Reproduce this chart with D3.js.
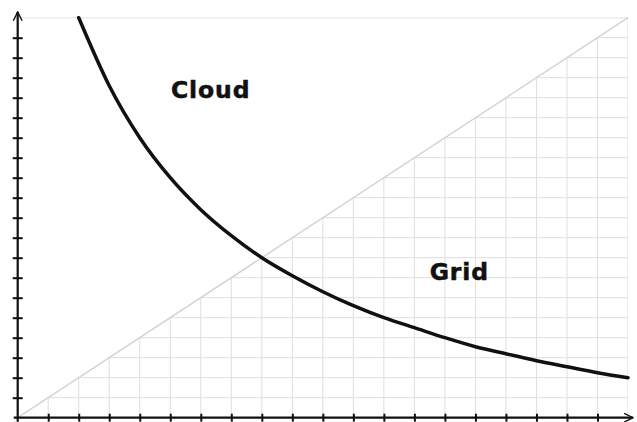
<!DOCTYPE html>
<html>
<head>
<meta charset="utf-8">
<script src="https://cdn.jsdelivr.net/npm/d3@7"></script>
<style>
  body { margin: 0; background: #fff; }
  svg { display: block; }
</style>
</head>
<body>
<script>
var width = 637;
var height = 422;

// Data (units of the 20 x 20 grid)
var curveX = [2, 3, 4, 5, 6, 7, 8, 9, 10, 11, 12, 13, 14, 15, 16, 17, 18, 19, 20];
var curveY = [20, 16.6, 14, 12, 10.4, 9.1, 8, 7.1, 6.3, 5.6, 5, 4.5, 4, 3.55, 3.2, 2.85, 2.55, 2.25, 2];
var diagonal = [[0, 0], [20, 20]];
var gridValues = d3.range(1, 21);
var tickValues = d3.range(1, 20);
var labels = ["Cloud", "Grid"];
var labelPos = [[5.02, 15.98], [13.5, 6.9]];

var svg = d3.select("body").append("svg")
    .attr("width", width)
    .attr("height", height);

var x = d3.scaleLinear().domain([0, 20]).range([17.7, 628]);
var y = d3.scaleLinear().domain([0, 20]).range([417.7, 17.7]);

// Triangle under the diagonal holds the grid
svg.append("clipPath").attr("id", "tri")
  .append("path")
    .attr("d", d3.line()([[x(0), y(0)], [x(20), y(20)], [x(20), y(0)]]));

// faint top border
svg.append("line")
    .attr("x1", x(0)).attr("x2", x(20))
    .attr("y1", y(20)).attr("y2", y(20))
    .attr("stroke", "#ececec").attr("stroke-width", 1.5);

var grid = svg.append("g").attr("clip-path", "url(#tri)")
    .attr("stroke", "#dedede").attr("stroke-width", 1);

grid.selectAll(".v").data(gridValues).enter().append("line")
    .attr("x1", d => x(d)).attr("x2", d => x(d))
    .attr("y1", y(0)).attr("y2", y(20));

grid.selectAll(".h").data(gridValues).enter().append("line")
    .attr("y1", d => y(d)).attr("y2", d => y(d))
    .attr("x1", x(0)).attr("x2", x(20));

// diagonal
svg.append("path")
    .attr("d", d3.line().x(d => x(d[0])).y(d => y(d[1]))(diagonal))
    .attr("fill", "none")
    .attr("stroke", "#d4d4d4")
    .attr("stroke-width", 1.5);

// curve
svg.append("path")
    .datum(curveX.map((d, i) => [d, curveY[i]]))
    .attr("d", d3.line().x(d => x(d[0])).y(d => y(d[1])).curve(d3.curveMonotoneX))
    .attr("fill", "none")
    .attr("stroke", "#111")
    .attr("stroke-width", 3.5)
    .attr("stroke-linecap", "round");

// labels
svg.selectAll(".label").data(labels).enter().append("text")
    .attr("x", (d, i) => x(labelPos[i][0]))
    .attr("y", (d, i) => y(labelPos[i][1]))
    .attr("font-family", "DejaVu Sans")
    .attr("font-weight", "bold")
    .attr("font-size", "23.5px")
    .attr("letter-spacing", "0.9px")
    .attr("fill", "#111")
    .attr("stroke", "#111")
    .attr("stroke-width", 0.5)
    .text(d => d);

// arrow marker
svg.append("defs").append("marker")
    .attr("id", "arrow")
    .attr("viewBox", "0 0 10 10")
    .attr("refX", 9).attr("refY", 5)
    .attr("markerWidth", 5).attr("markerHeight", 5)
    .attr("markerUnits", "strokeWidth")
    .attr("orient", "auto")
  .append("path")
    .attr("d", "M1,1 L9,5 L1,9")
    .attr("fill", "none")
    .attr("stroke", "#111")
    .attr("stroke-width", 1.3);

// axes
var xAxis = svg.append("g")
    .attr("transform", "translate(0," + y(0) + ")")
    .call(d3.axisBottom(x).tickValues(tickValues).tickSize(4).tickFormat(""));
xAxis.select(".domain").remove();
xAxis.selectAll(".tick line").attr("y1", -4).attr("stroke", "#111").attr("stroke-width", 2);

var yAxis = svg.append("g")
    .attr("transform", "translate(" + x(0) + ",0)")
    .call(d3.axisLeft(y).tickValues(tickValues).tickSize(5).tickFormat(""));
yAxis.select(".domain").remove();
yAxis.selectAll(".tick line").attr("x1", 5).attr("stroke", "#111").attr("stroke-width", 2);

svg.append("line")
    .attr("x1", x(0) - 4).attr("x2", 633)
    .attr("y1", y(0)).attr("y2", y(0))
    .attr("stroke", "#111").attr("stroke-width", 2.2)
    .attr("marker-end", "url(#arrow)");

svg.append("line")
    .attr("x1", x(0)).attr("x2", x(0))
    .attr("y1", y(0) + 4).attr("y2", 12)
    .attr("stroke", "#111").attr("stroke-width", 2.2)
    .attr("marker-end", "url(#arrow)");
</script>
</body>
</html>
